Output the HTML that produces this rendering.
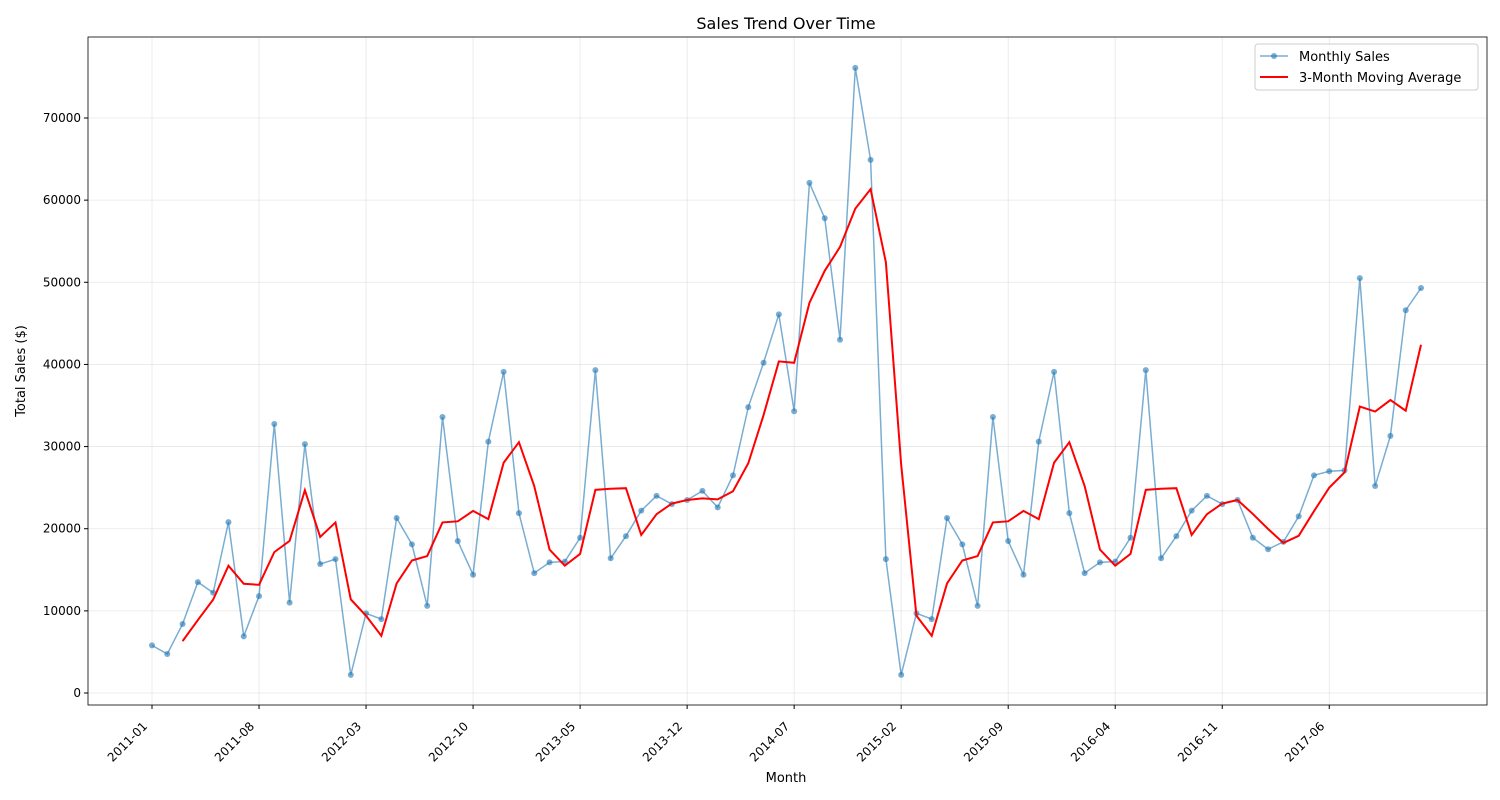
<!DOCTYPE html>
<html><head><meta charset="utf-8"><style>
body{margin:0;background:#fff;}
svg{display:block;font-family:"DejaVu Sans","Liberation Sans",sans-serif;}
</style></head><body>
<svg id="chart" width="1500" height="800"></svg>
<script>
const months=[];for(let y=2011;y<=2017;y++)for(let m=1;m<=12;m++)months.push(y+'-'+String(m).padStart(2,'0'));
const sales=[5800,4750,8400,13500,12200,20800,6900,11800,32750,11000,30300,15700,16300,2200,9700,9000,21300,18100,10600,33600,18500,14400,30600,39100,21900,14600,15900,16000,18900,39300,16400,19100,22200,24000,23000,23500,24600,22600,26500,34800,40200,46100,34300,62100,57800,43000,76100,64900,16300,2200,9700,9000,21300,18100,10600,33600,18500,14400,30600,39100,21900,14600,15900,16000,18900,39300,16400,19100,22200,24000,23000,23500,18900,17500,18400,21500,26500,27000,27100,50500,25200,31300,46600,49300];
const yTicks=[0,10000,20000,30000,40000,50000,60000,70000];
const xTickIdx=[0,7,14,21,28,35,42,49,56,63,70,77];
const NS='http://www.w3.org/2000/svg';
const svg=document.getElementById('chart');
const L=88,R=1487,T=37,B=705;
const xs=i=>152+i*(1421-152)/83;
const ys=v=>693-v*575/70000;
function el(t,a,p){const e=document.createElementNS(NS,t);for(const k in a)e.setAttribute(k,a[k]);(p||svg).appendChild(e);return e;}
const grid=el('g',{});
yTicks.forEach(v=>{el('line',{x1:L,x2:R,y1:ys(v),y2:ys(v),stroke:'#b0b0b0','stroke-opacity':0.3,'stroke-width':0.8},grid);
 el('line',{x1:L-4,x2:L,y1:ys(v),y2:ys(v),stroke:'#000'});
 const t=el('text',{x:L-7,y:ys(v)+4,'text-anchor':'end','font-size':12});t.textContent=v;
 });
xTickIdx.forEach(i=>{el('line',{x1:xs(i),x2:xs(i),y1:T,y2:B,stroke:'#b0b0b0','stroke-opacity':0.3,'stroke-width':0.8},grid);
 el('line',{x1:xs(i),x2:xs(i),y1:B,y2:B+4,stroke:'#000'});
 const ax=xs(i)-4,ay=B+22;
 const t=el('text',{x:ax,y:ay,'text-anchor':'end','font-size':12,transform:`rotate(-45 ${ax} ${ay})`});t.textContent=months[i];
 });
const sp=sales.map((v,i)=>xs(i)+','+ys(v)).join(' ');
const sl=el('polyline',{points:sp,fill:'none',stroke:'#1f77b4','stroke-opacity':0.6,'stroke-width':1.5});

sales.forEach((v,i)=>{const c=el('circle',{cx:xs(i),cy:ys(v),r:3,fill:'#1f77b4','fill-opacity':0.6});
 });
const ma=[];for(let i=2;i<sales.length;i++)ma.push(xs(i)+','+ys((sales[i]+sales[i-1]+sales[i-2])/3));
const ml=el('polyline',{points:ma.join(' '),fill:'none',stroke:'#ff0000','stroke-width':2});

const fr=el('rect',{x:L,y:T,width:R-L,height:B-T,fill:'none',stroke:'#000','stroke-width':0.8});

let t=el('text',{x:786,y:29,'text-anchor':'middle','font-size':16});t.textContent='Sales Trend Over Time';

t=el('text',{x:786,y:782,'text-anchor':'middle','font-size':13});t.textContent='Month';

t=el('text',{x:25,y:371,'text-anchor':'middle','font-size':13,transform:'rotate(-90 25 371)'});t.textContent='Total Sales ($)';

const lg=el('g',{});
el('rect',{x:1255,y:44,width:223,height:46,rx:3,fill:'#fff','fill-opacity':0.8,stroke:'#ccc'},lg);
el('line',{x1:1260,x2:1288,y1:56,y2:56,stroke:'#1f77b4','stroke-opacity':0.6,'stroke-width':1.5},lg);
el('circle',{cx:1274,cy:56,r:3,fill:'#1f77b4','fill-opacity':0.6},lg);
el('line',{x1:1260,x2:1288,y1:77,y2:77,stroke:'#ff0000','stroke-width':2},lg);
t=el('text',{x:1299,y:61,'font-size':13},lg);t.textContent='Monthly Sales';

t=el('text',{x:1299,y:82,'font-size':13},lg);t.textContent='3-Month Moving Average';

</script>
</body></html>
